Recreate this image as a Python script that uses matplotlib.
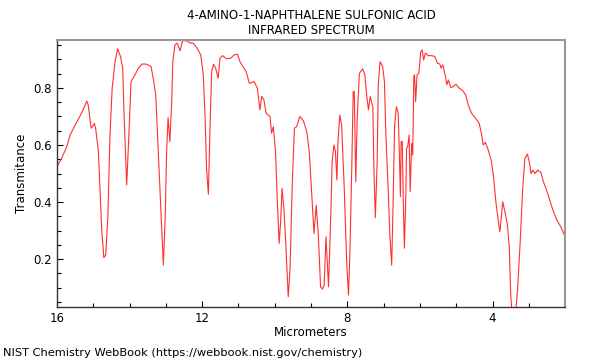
import numpy as np
import matplotlib
matplotlib.use('Agg')
import matplotlib.pyplot as plt
from matplotlib.ticker import MultipleLocator

# wavelength [micrometers] and transmitance
wl = [16.0, 15.87, 15.73, 15.64, 15.50, 15.37, 15.28, 15.18, 15.14, 15.06,
      15.02, 14.97, 14.93, 14.86, 14.82, 14.77, 14.71, 14.66, 14.60, 14.54,
      14.48, 14.40, 14.33, 14.25, 14.19, 14.15, 14.08, 14.02, 13.96, 13.85,
      13.76, 13.65, 13.53, 13.41, 13.35, 13.28, 13.21, 13.13, 13.07, 13.02,
      12.98, 12.94, 12.89, 12.84, 12.81, 12.75, 12.69, 12.61, 12.54, 12.43,
      12.32, 12.25, 12.15, 12.04, 11.97, 11.92, 11.88, 11.83, 11.79, 11.74,
      11.69, 11.63, 11.56, 11.51, 11.44, 11.33, 11.21, 11.12, 11.03, 10.96,
      10.88, 10.79, 10.70, 10.57, 10.48, 10.41, 10.36, 10.30, 10.24, 10.13,
      10.09, 10.04, 9.98, 9.93, 9.88, 9.84, 9.80, 9.75, 9.70, 9.63,
      9.58, 9.52, 9.46, 9.40, 9.31, 9.21, 9.12, 9.05, 8.98, 8.92,
      8.86, 8.80, 8.74, 8.69, 8.64, 8.59, 8.52, 8.46, 8.42, 8.37,
      8.33, 8.29, 8.26, 8.21, 8.16, 8.09, 8.02, 7.97, 7.93, 7.88,
      7.84, 7.81, 7.77, 7.73, 7.67, 7.58, 7.52, 7.47, 7.42, 7.37,
      7.30, 7.27, 7.23, 7.18, 7.15, 7.10, 7.03, 6.98, 6.94, 6.87,
      6.83, 6.78, 6.74, 6.70, 6.65, 6.60, 6.57, 6.54, 6.52, 6.49,
      6.46, 6.43, 6.39, 6.37, 6.34, 6.30, 6.27, 6.23, 6.20, 6.17,
      6.15, 6.12, 6.08, 6.03, 5.98, 5.94, 5.90, 5.85, 5.77, 5.68,
      5.59, 5.52, 5.45, 5.42, 5.37, 5.31, 5.26, 5.22, 5.15, 5.08,
      5.01, 4.92, 4.82, 4.74, 4.67, 4.58, 4.48, 4.37, 4.30, 4.26,
      4.20, 4.12, 4.04, 3.98, 3.91, 3.84, 3.80, 3.72, 3.66, 3.59,
      3.54, 3.50, 3.47, 3.36, 3.31, 3.24, 3.17, 3.11, 3.04, 2.99,
      2.94, 2.89, 2.83, 2.76, 2.67, 2.60, 2.53, 2.44, 2.34, 2.23,
      2.12, 2.00]
trans = [0.524, 0.554, 0.594, 0.635, 0.670, 0.700, 0.723, 0.754, 0.740, 0.659,
         0.665, 0.676, 0.653, 0.577, 0.460, 0.309, 0.205, 0.214, 0.344, 0.635,
         0.800, 0.892, 0.937, 0.910, 0.869, 0.694, 0.460, 0.635, 0.822, 0.846,
         0.869, 0.884, 0.883, 0.875, 0.834, 0.775, 0.577, 0.344, 0.179, 0.344,
         0.577, 0.696, 0.612, 0.752, 0.892, 0.951, 0.957, 0.930, 0.966, 0.965,
         0.957, 0.957, 0.941, 0.916, 0.846, 0.694, 0.518, 0.427, 0.635, 0.857,
         0.883, 0.869, 0.834, 0.904, 0.913, 0.902, 0.904, 0.916, 0.918, 0.892,
         0.875, 0.857, 0.816, 0.822, 0.799, 0.723, 0.770, 0.758, 0.711, 0.700,
         0.641, 0.664, 0.577, 0.401, 0.255, 0.331, 0.448, 0.378, 0.261, 0.068,
         0.167, 0.460, 0.659, 0.664, 0.700, 0.684, 0.647, 0.577, 0.425, 0.290,
         0.389, 0.284, 0.103, 0.095, 0.109, 0.278, 0.103, 0.343, 0.541, 0.600,
         0.577, 0.477, 0.612, 0.705, 0.670, 0.460, 0.190, 0.074, 0.226, 0.518,
         0.787, 0.787, 0.471, 0.694, 0.851, 0.867, 0.846, 0.775, 0.723, 0.770,
         0.734, 0.518, 0.345, 0.541, 0.810, 0.892, 0.875, 0.822, 0.635, 0.425,
         0.284, 0.179, 0.401, 0.670, 0.734, 0.711, 0.577, 0.419, 0.612, 0.612,
         0.401, 0.238, 0.425, 0.588, 0.594, 0.635, 0.436, 0.606, 0.565, 0.840,
         0.846, 0.752, 0.846, 0.851, 0.927, 0.933, 0.898, 0.922, 0.913, 0.913,
         0.910, 0.887, 0.883, 0.869, 0.881, 0.846, 0.811, 0.828, 0.801, 0.805,
         0.813, 0.799, 0.790, 0.775, 0.740, 0.711, 0.696, 0.676, 0.635, 0.600,
         0.609, 0.582, 0.547, 0.495, 0.401, 0.331, 0.296, 0.401, 0.366, 0.319,
         0.238, 0.074, 0.020, 0.020, 0.097, 0.261, 0.448, 0.553, 0.568, 0.541,
         0.500, 0.512, 0.500, 0.512, 0.504, 0.471, 0.448, 0.413, 0.372, 0.337,
         0.313, 0.278]

fig = plt.figure(figsize=(6, 3.6), dpi=100)
ax = fig.add_axes([0.095, 0.147, 0.847, 0.742])
ax.plot(wl, trans, '-', color='#ff3030', lw=0.8)

ax.set_xlim(16, 2)
ax.set_ylim(0.032, 0.968)
ax.xaxis.set_major_locator(MultipleLocator(4))
ax.xaxis.set_minor_locator(MultipleLocator(1))
ax.yaxis.set_major_locator(MultipleLocator(0.2))
ax.yaxis.set_minor_locator(MultipleLocator(0.05))
ax.tick_params(which='both', direction='in', labelsize=8.5, length=4, width=0.8)
ax.tick_params(which='minor', length=3)

for s in ['top', 'right']:
    ax.spines[s].set_color('#999999')
    ax.spines[s].set_linewidth(1.5)
for s in ['left', 'bottom']:
    ax.spines[s].set_color('#333333')
    ax.spines[s].set_linewidth(1.0)

ax.set_title('4-AMINO-1-NAPHTHALENE SULFONIC ACID\nINFRARED SPECTRUM', fontsize=8.5, pad=4)
ax.set_xlabel('Micrometers', fontsize=8.5, labelpad=1)
ax.set_ylabel('Transmitance', fontsize=8.5)
fig.text(0.005, 0.012, 'NIST Chemistry WebBook (https://webbook.nist.gov/chemistry)', fontsize=8.2)

fig.savefig('out.png', dpi=100)
